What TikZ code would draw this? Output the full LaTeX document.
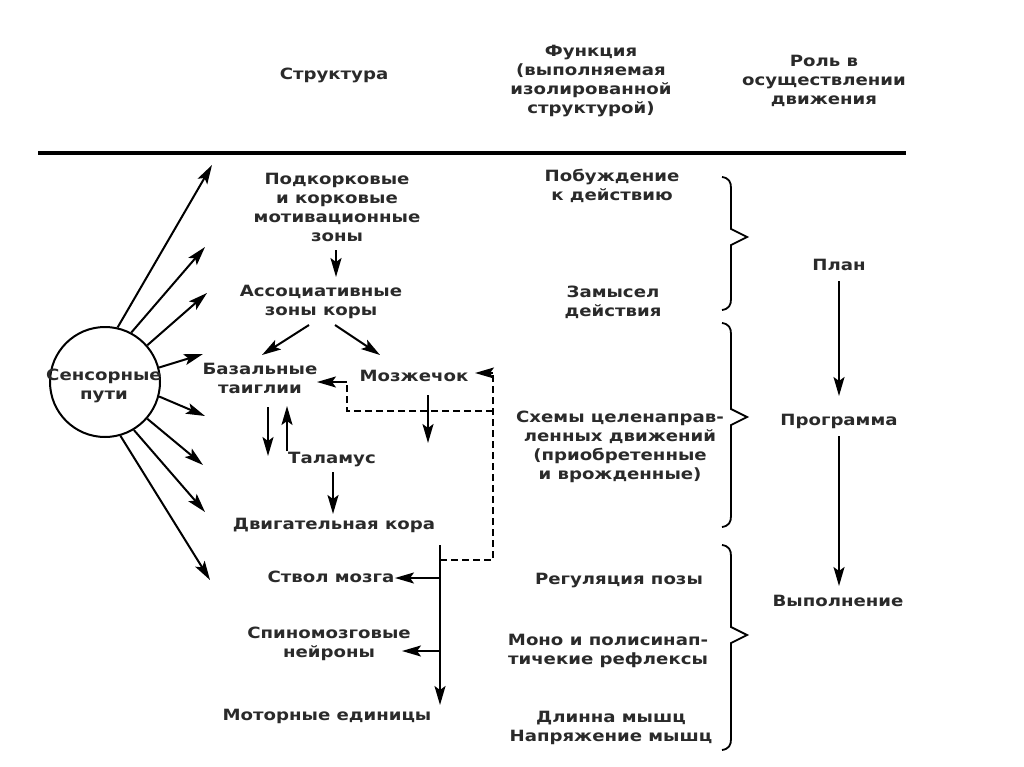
\documentclass[tikz,border=0pt]{standalone}
\usepackage{fontspec}
\setmainfont{DejaVu Sans}[FakeStretch=1.17]
\usetikzlibrary{arrows.meta}
\definecolor{txt}{HTML}{2A2A2A}
\newcommand\jbrace[3]{\draw[bracestyle] (722,#1) .. controls (729,#1+1) and (731,#1+5) .. (731,#1+11) -- (731,#2-8) -- (747,#2) -- (731,#2+8) -- (731,#3-11) .. controls (731,#3-5) and (729,#3-1) .. (722,#3);}
\begin{document}
\begin{tikzpicture}[x=1pt,y=-1pt,
  lbl/.style={font=\bfseries\fontsize{15.5}{19}\selectfont, text=txt, align=center, inner sep=0pt},
  arr/.style={line width=2pt, -{Stealth[length=19pt,width=11pt,inset=4pt]}},
  dsh/.style={line width=2pt, dash pattern=on 7pt off 4pt},
  bracestyle/.style={line width=1.8pt, line join=miter}]
\useasboundingbox[fill=white] (0,0) rectangle (1024,767);
% headers
\node[lbl] (hStruct) at (334,75) {Структура};
\node[lbl] (hFunc) at (591,81) {Функция\\(выполняемая\\изолированной\\структурой)};
\node[lbl] (hRole) at (824,81) {Роль в\\осуществлении\\движения};
\draw[line width=4pt] (38,153) -- (906,153);
% sensory circle
\node[draw, circle, line width=2pt, minimum size=110pt, inner sep=0pt] (sens) at (105,382) {};
\node[lbl] (sensT) at (104,386) {Сенсорные\\пути};
\coordinate (r1) at (212,165);
\coordinate (r2) at (205,247);
\coordinate (r3) at (207,293);
\coordinate (r4) at (203,354);
\coordinate (r5) at (205,416);
\coordinate (r6) at (203,465);
\coordinate (r7) at (205,512);
\coordinate (r8) at (210,580);
\draw[arr] (sens.77) -- (r1);
\draw[arr] (sens.62) -- (r2);
\draw[arr] (sens.41) -- (r3);
\draw[arr] (sens.15) -- (r4);
\draw[arr] (sens.-15) -- (r5);
\draw[arr] (sens.-41) -- (r6);
\draw[arr] (sens.-59) -- (r7);
\draw[arr] (sens.-74) -- (r8);
% structure column
\node[lbl] (mot) at (337,207) {Подкорковые\\и корковые\\мотивационные\\зоны};
\node[lbl] (assoc) at (321,302) {Ассоциативные\\зоны коры};
\node[lbl] (bas) at (260,378) {Базальные\\таиглии};
\node[lbl] (cereb) at (414,376) {Мозжечок};
\node[lbl] (thal) at (332,460) {Таламус};
\node[lbl] (mcx) at (334,525) {Двигательная кора};
\node[lbl] (stem) at (331,577) {Ствол мозга};
\node[lbl] (spin) at (329,644) {Спиномозговые\\нейроны};
\node[lbl] (munit) at (327,716) {Моторные единицы};
\coordinate (motS) at (336,250); \coordinate (assocN) at (336,277);
\draw[arr] (motS) -- (assocN);
\coordinate (assocSW) at (309,325); \coordinate (basN) at (262,355);
\draw[arr] (assocSW) -- (basN);
\coordinate (assocSE) at (335,325); \coordinate (cerebN) at (380,355);
\draw[arr] (assocSE) -- (cerebN);
\coordinate (basS1) at (268,407); \coordinate (thalW1) at (268,456);
\draw[arr] (basS1) -- (thalW1);
\coordinate (thalW2) at (287,451); \coordinate (basS2) at (287,406);
\draw[arr] (thalW2) -- (basS2);
\coordinate (cerebS) at (428,395); \coordinate (cerebD) at (428,443);
\draw[arr] (cerebS) -- (cerebD);
\coordinate (thalS) at (333,472); \coordinate (mcxN) at (333,514);
\draw[arr] (thalS) -- (mcxN);
% descending pathway
\coordinate (dTop) at (440,545); \coordinate (dBot) at (440,705);
\draw[arr] (dTop) -- (dBot);
\coordinate (dStem) at (440,578); \coordinate (stemE) at (395,578);
\draw[arr] (dStem) -- (stemE);
\coordinate (dSpin) at (440,651); \coordinate (spinE) at (402,651);
\draw[arr] (dSpin) -- (spinE);
% feedback (dashed)
\coordinate (fb0) at (440,560);
\coordinate (fb1) at (493,560);
\coordinate (fb2) at (493,373);
\coordinate (fb3) at (493,411);
\coordinate (fb4) at (347,411);
\coordinate (fb5) at (347,382);
\coordinate (cerebE) at (475,373);
\coordinate (basE) at (317,382);
\draw[dsh] (fb0) -- (fb1) -- (fb2);
\draw[dsh] (fb3) -- (fb4) -- (fb5);
\draw[arr] (fb2) -- (cerebE);
\draw[arr] (fb5) -- (basE);
% function column
\node[lbl] (f1) at (612,186) {Побуждение\\к действию};
\node[lbl] (f2) at (613,302) {Замысел\\действия};
\node[lbl] (f3) at (620,447) {Схемы целенаправ-\\ленных движений\\(приобретенные\\и врожденные)};
\node[lbl] (f4) at (619,581) {Регуляция позы};
\node[lbl] (f5) at (608,651) {Моно и полисинап-\\тичекие рефлексы};
\node[lbl] (f6) at (611,728) {Длинна мышц\\Напряжение мышц};
% braces
\jbrace{177}{237}{310}
\jbrace{323}{417}{527}
\jbrace{545}{635}{750}
% role column
\node[lbl] (plan) at (839,265) {План};
\node[lbl] (prog) at (839,421) {Программа};
\node[lbl] (exec) at (838,601) {Выполнение};
\coordinate (planS) at (839,281); \coordinate (progN) at (839,396);
\draw[arr] (planS) -- (progN);
\coordinate (progS) at (839,436); \coordinate (execN) at (839,586);
\draw[arr] (progS) -- (execN);
\end{tikzpicture}
\end{document}
